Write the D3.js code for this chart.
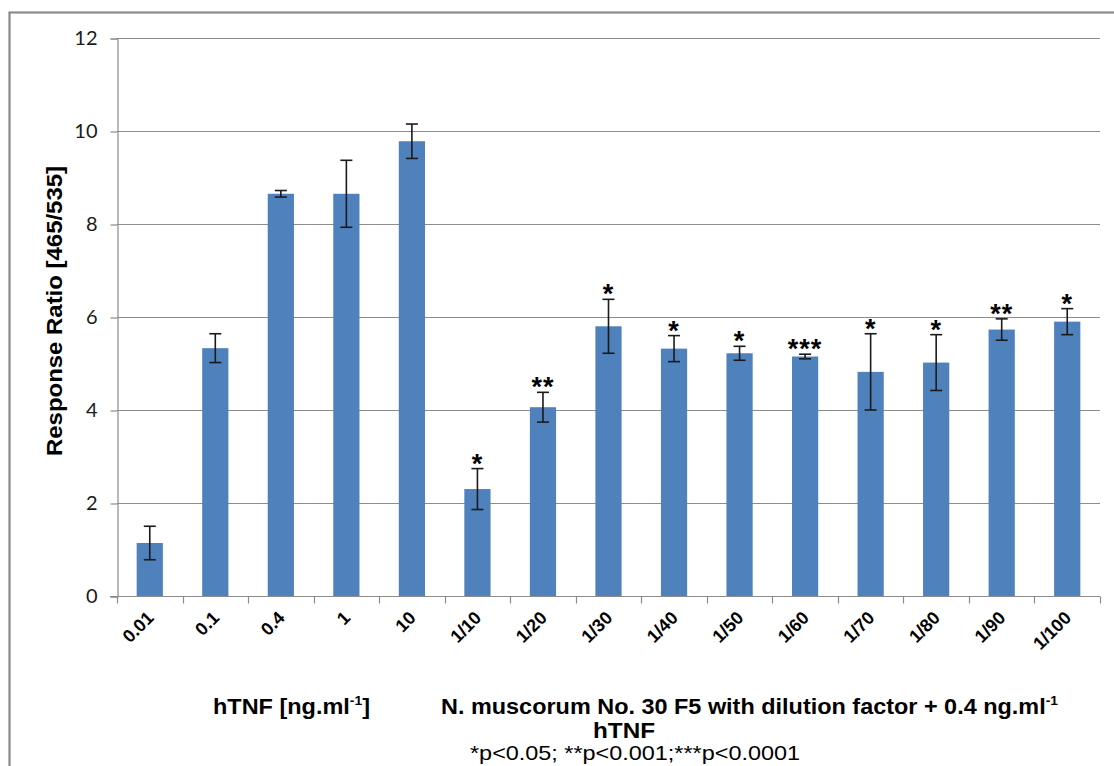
<!DOCTYPE html>
<html>
<head>
<meta charset="utf-8">
<script src="https://cdn.jsdelivr.net/npm/d3@7/dist/d3.min.js"></script>
<style>
  html, body { margin: 0; padding: 0; background: #ffffff; }
  svg { display: block; }
</style>
</head>
<body>
<svg id="chart" width="1114" height="766"></svg>
<script>
// Doses / dilutions on the category axis
const categories = ["0.01", "0.1", "0.4", "1", "10",
  "1/10", "1/20", "1/30", "1/40", "1/50", "1/60", "1/70", "1/80", "1/90", "1/100"];

// Mean response ratio (465/535) per category
const means = [1.14, 5.33, 8.65, 8.65, 9.78,
  2.30, 4.06, 5.80, 5.32, 5.22, 5.15, 4.82, 5.02, 5.73, 5.90];

// Error (± value) per category
const errors = [0.36, 0.31, 0.07, 0.72, 0.37,
  0.44, 0.32, 0.58, 0.28, 0.15, 0.05, 0.82, 0.60, 0.23, 0.28];

// Significance markers per category
const significance = ["", "", "", "", "",
  "*", "**", "*", "*", "*", "***", "*", "*", "**", "*"];

const yTicks = [0, 2, 4, 6, 8, 10, 12];

const svg = d3.select("#chart");
const W = 1114, H = 766;

svg.append("rect").attr("width", W).attr("height", H).attr("fill", "#ffffff");

// outer chart frame
svg.append("rect")
  .attr("x", 9.5).attr("y", 12.5)
  .attr("width", 1300).attr("height", 900)
  .attr("fill", "none").attr("stroke", "#8a8a8a").attr("stroke-width", 2.2);

const plot = { left: 117, right: 1100, top: 38, bottom: 596 };

const x = d3.scaleBand()
  .domain(categories)
  .range([plot.left, plot.right])
  .paddingInner(0.6)
  .paddingOuter(0.3);

const y = d3.scaleLinear().domain([0, 12]).range([plot.bottom, plot.top]);

// horizontal gridlines
svg.append("g")
  .selectAll("line")
  .data(yTicks.filter(d => d > 0))
  .join("line")
  .attr("x1", plot.left).attr("x2", plot.right)
  .attr("y1", d => Math.round(y(d)) + 0.5).attr("y2", d => Math.round(y(d)) + 0.5)
  .attr("stroke", "#8c8c8c").attr("stroke-width", 1.2);

// y axis
const yAxis = svg.append("g")
  .attr("transform", `translate(${plot.left + 0.5},0.5)`)
  .call(d3.axisLeft(y).tickValues(yTicks).tickSize(7).tickPadding(13).tickFormat(d3.format("d")));
yAxis.select(".domain").attr("stroke", "#8c8c8c").attr("stroke-width", 1.2);
yAxis.selectAll(".tick line").attr("stroke", "#8c8c8c").attr("stroke-width", 1.2);
yAxis.selectAll(".tick text")
  .attr("font-family", "Lato, 'Open Sans', sans-serif")
  .attr("font-size", 20)
  .attr("fill", "#1a1a1a");

// bars
svg.append("g")
  .selectAll("rect")
  .data(categories)
  .join("rect")
  .attr("x", d => x(d))
  .attr("width", x.bandwidth())
  .attr("y", (d, i) => y(means[i]))
  .attr("height", (d, i) => y(0) - y(means[i]))
  .attr("fill", "#4f81bd");

// x axis with ticks at category boundaries
const xAxisG = svg.append("g").attr("transform", `translate(0,${plot.bottom + 0.5})`);
xAxisG.append("line")
  .attr("x1", plot.left - 7).attr("x2", plot.right)
  .attr("stroke", "#8c8c8c").attr("stroke-width", 1.2);
const step = x.step();
const boundaries = d3.range(categories.length + 1).map(i => plot.left + i * step);
xAxisG.selectAll("line.tk")
  .data(boundaries)
  .join("line")
  .attr("class", "tk")
  .attr("x1", d => Math.round(d) + 0.5).attr("x2", d => Math.round(d) + 0.5)
  .attr("y1", 0).attr("y2", 7)
  .attr("stroke", "#8c8c8c").attr("stroke-width", 1.2);

// rotated category labels
svg.append("g")
  .selectAll("text")
  .data(categories)
  .join("text")
  .attr("transform", d => `translate(${x(d) + x.bandwidth() / 2 + 5},619) rotate(-45)`)
  .attr("text-anchor", "end")
  .attr("font-family", "'Liberation Sans', Arial, sans-serif")
  .attr("font-weight", "bold")
  .attr("font-size", 18)
  .attr("fill", "#000")
  .text(d => d);

// error bars
const eb = svg.append("g").attr("stroke", "#1a1a1a").attr("stroke-width", 1.6);
categories.forEach((c, i) => {
  const cx = x(c) + x.bandwidth() / 2;
  const yt = y(means[i] + errors[i]);
  const yb = y(means[i] - errors[i]);
  eb.append("line").attr("x1", cx).attr("x2", cx).attr("y1", yt).attr("y2", yb);
  eb.append("line").attr("x1", cx - 6).attr("x2", cx + 6).attr("y1", yt).attr("y2", yt);
  eb.append("line").attr("x1", cx - 6).attr("x2", cx + 6).attr("y1", yb).attr("y2", yb);
});

// significance asterisks above the error bars
svg.append("g")
  .selectAll("text")
  .data(categories)
  .join("text")
  .attr("x", d => x(d) + x.bandwidth() / 2)
  .attr("y", (d, i) => y(means[i] + errors[i]) + 4)
  .attr("text-anchor", "middle")
  .attr("font-family", "'Liberation Sans', Arial, sans-serif")
  .attr("font-weight", "bold")
  .attr("font-size", 27)
  .attr("letter-spacing", 1)
  .attr("fill", "#000")
  .text((d, i) => significance[i]);

// y axis title
svg.append("text")
  .attr("transform", `translate(62,311) rotate(-90)`)
  .attr("text-anchor", "middle")
  .attr("font-family", "'Liberation Sans', Arial, sans-serif")
  .attr("font-weight", "bold")
  .attr("font-size", 22)
  .attr("textLength", 290)
  .attr("lengthAdjust", "spacingAndGlyphs")
  .attr("fill", "#000")
  .text("Response Ratio [465/535]");

// group captions beneath the axis
const cap = svg.append("g")
  .attr("font-family", "'Liberation Sans', Arial, sans-serif")
  .attr("fill", "#000");

const c1 = cap.append("text").attr("x", 213).attr("y", 714)
  .attr("font-weight", "bold").attr("font-size", 22)
  .attr("textLength", 157).attr("lengthAdjust", "spacingAndGlyphs");
c1.append("tspan").text("hTNF [ng.ml");
c1.append("tspan").attr("font-size", 13).attr("dy", -9).text("-1");
c1.append("tspan").attr("dy", 9).text("]");

const c2 = cap.append("text").attr("x", 441).attr("y", 714)
  .attr("font-weight", "bold").attr("font-size", 22)
  .attr("textLength", 617).attr("lengthAdjust", "spacingAndGlyphs");
c2.append("tspan").text("N. muscorum No. 30 F5 with dilution factor + 0.4 ng.ml");
c2.append("tspan").attr("font-size", 13).attr("dy", -9).text("-1");

cap.append("text").attr("x", 624).attr("y", 738)
  .attr("text-anchor", "middle")
  .attr("font-weight", "bold").attr("font-size", 22)
  .attr("textLength", 62).attr("lengthAdjust", "spacingAndGlyphs")
  .text("hTNF");

cap.append("text").attr("x", 470).attr("y", 760)
  .attr("font-size", 21)
  .attr("textLength", 330).attr("lengthAdjust", "spacingAndGlyphs")
  .text("*p<0.05; **p<0.001;***p<0.0001");
</script>
</body>
</html>
